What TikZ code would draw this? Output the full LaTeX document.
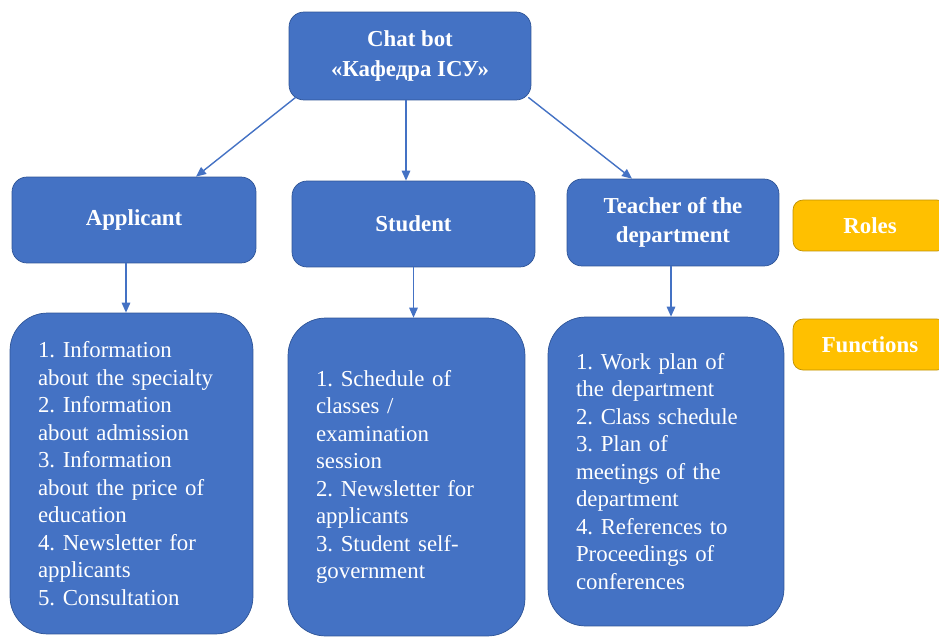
\documentclass[tikz,border=0pt]{standalone}
\usepackage{fontspec}
\setmainfont{Liberation Serif}
\usepackage{tikz}
\usetikzlibrary{arrows.meta}
\definecolor{boxblue}{HTML}{4472C4}
\definecolor{edgeblue}{HTML}{2F5597}
\definecolor{tagorange}{HTML}{FFC000}
\definecolor{edgeorange}{HTML}{BF9000}
\def\thickness{thick}
\frenchspacing
\tikzset{
rolebox/.style 2 args={
	draw=edgeblue, fill=boxblue, rounded corners=0.3cm,
	minimum width=#1, minimum height=#2,
	text=white, font=\fontsize{13}{16.5}\selectfont\bfseries, align=center
},
listbox/.style 2 args={
	draw=edgeblue, fill=boxblue, rounded corners=0.75cm,
	text width=#1, minimum height=#2, inner xsep=0.56cm,
	text=white, font=\fontsize{13}{15.65}\selectfont, align=left
},
tagbox/.style={
	draw=edgeorange, fill=tagorange, rounded corners=0.2cm,
	minimum width=3.08cm, minimum height=1.02cm,
	text=white, font=\fontsize{13}{16}\selectfont\bfseries
},
link/.style={
	draw=boxblue, \thickness,
	-{Triangle[length=0.2cm,width=0.17cm]}
},
}

\begin{document}
\begin{tikzpicture}[x=0.02cm, y=-0.02cm]
\useasboundingbox (0,0) rectangle (939,639);
\node[rolebox={4.84cm}{1.76cm}, font=\fontsize{13}{17.5}\selectfont\bfseries] (chat) at (410,56) {Chat bot\\«Кафедра ІСУ»};

%
\node[rolebox={4.88cm}{1.72cm}] (applicant) at (134,220) {Applicant};
\node[rolebox={4.86cm}{1.72cm}] (student) at (413.5,224) {Student};
\node[rolebox={4.24cm}{1.74cm}] (teacher) at (673,222.5) {Teacher of the\\department};

%
\node[tagbox] (roles) at (870,225.5) {Roles};
\node[tagbox] (functions) at (870,344.5) {Functions};

%
\node[listbox={3.74cm}{6.42cm}] (fapplicant) at (131.5,473.5)
	{1. Information\\about the specialty\\2. Information\\about admission\\3. Information\\about the price of\\education\\4. Newsletter for\\applicants\\5. Consultation};
\node[listbox={3.62cm}{6.36cm}] (fstudent) at (406.5,477)
	{1. Schedule of\\classes /\\examination\\session\\2. Newsletter for\\applicants\\3. Student self-\\government};
\node[listbox={3.60cm}{6.18cm}] (fteacher) at (666,471.5)
	{1. Work plan of\\the department\\2. Class schedule\\3. Plan of\\meetings of the\\department\\4. References to\\Proceedings of\\conferences};

%
\draw[link] ([xshift=0.14cm,yshift=0.06cm]chat.south west) -- ([xshift=1.24cm]applicant.north);
\draw[link] ([xshift=-0.08cm]chat.south) -- ([xshift=-0.08cm]chat.south |- student.north);
\draw[link] ([xshift=-0.06cm,yshift=0.06cm]chat.south east) -- ([xshift=-0.82cm]teacher.north);

%
\draw[link] ([xshift=-0.16cm]applicant.south) -- ([xshift=-0.16cm]applicant.south |- fapplicant.north);
\draw[link] (student.south) -- (student.south |- fstudent.north);
\draw[link] ([xshift=-0.04cm]teacher.south) -- ([xshift=-0.04cm]teacher.south |- fteacher.north);
\end{tikzpicture}
\end{document}
